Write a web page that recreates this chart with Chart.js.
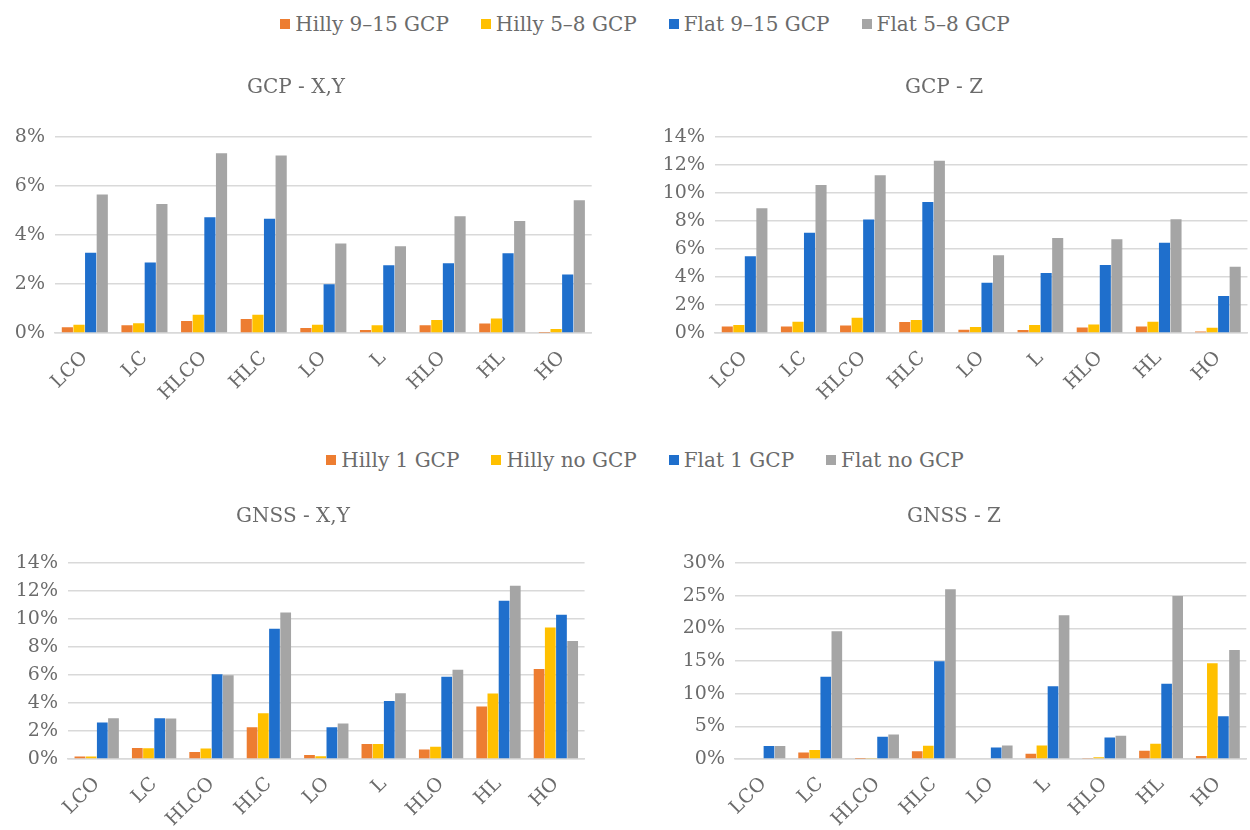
<!DOCTYPE html>
<html>
<head>
<meta charset="utf-8">
<script src="https://cdn.jsdelivr.net/npm/chart.js@4.4.1/dist/chart.umd.min.js"></script>
<style>
    body { margin: 0; background: #fff; width: 1250px; height: 830px; position: relative; overflow: hidden; font-family: "DejaVu Serif", serif; }
    .legend { position: absolute; left: 20px; width: 1250px; display: flex; justify-content: center; font-size: 20px; color: #6b6b6b; line-height: 28px; }
    .legend span.item { display: inline-flex; align-items: center; margin: 0 16px; white-space: nowrap; }
    .legend span.box { display: inline-block; width: 10px; height: 10px; margin-right: 5px; }
    .box-wrap { position: absolute; }
</style>
</head>
<body>
<div class="legend" id="legendTop" style="top: 10px;"></div>
<div class="legend" id="legendBottom" style="top: 446px;"></div>
<div class="box-wrap" style="left: 0px; top: 60px; width: 592px; height: 343px;"><canvas id="gcpXY"></canvas></div>
<div class="box-wrap" style="left: 640px; top: 60px; width: 608px; height: 343px;"><canvas id="gcpZ"></canvas></div>
<div class="box-wrap" style="left: 0px; top: 490px; width: 586px; height: 339px;"><canvas id="gnssXY"></canvas></div>
<div class="box-wrap" style="left: 660px; top: 490px; width: 588px; height: 339px;"><canvas id="gnssZ"></canvas></div>
<script>
let categories = ['LCO', 'LC', 'HLCO', 'HLC', 'LO', 'L', 'HLO', 'HL', 'HO'];
let colors = ['#ED7D31', '#FFC000', '#1F6FCC', '#A5A5A5'];

let gcpSeries = ['Hilly 9–15 GCP', 'Hilly 5–8 GCP', 'Flat 9–15 GCP', 'Flat 5–8 GCP'];
let gnssSeries = ['Hilly 1 GCP', 'Hilly no GCP', 'Flat 1 GCP', 'Flat no GCP'];

// GCP - X,Y (%)
let gcpXYHilly915 = [0.23, 0.32, 0.49, 0.57, 0.20, 0.12, 0.32, 0.39, 0.01];
let gcpXYHilly58 = [0.34, 0.40, 0.74, 0.74, 0.34, 0.32, 0.53, 0.59, 0.16];
let gcpXYFlat915 = [3.28, 2.88, 4.72, 4.66, 1.99, 2.77, 2.85, 3.26, 2.39];
let gcpXYFlat58 = [5.65, 5.27, 7.34, 7.24, 3.65, 3.54, 4.77, 4.57, 5.42];

// GCP - Z (%)
let gcpZHilly915 = [0.47, 0.47, 0.54, 0.78, 0.24, 0.21, 0.40, 0.47, 0.10];
let gcpZHilly58 = [0.57, 0.80, 1.09, 0.92, 0.43, 0.57, 0.61, 0.80, 0.38];
let gcpZFlat915 = [5.48, 7.16, 8.11, 9.36, 3.59, 4.28, 4.85, 6.45, 2.65];
let gcpZFlat58 = [8.91, 10.57, 11.26, 12.30, 5.56, 6.78, 6.69, 8.13, 4.73];

// GNSS - X,Y (%)
let gnssXYHilly1 = [0.17, 0.79, 0.50, 2.26, 0.29, 1.08, 0.67, 3.75, 6.43];
let gnssXYHillyNo = [0.17, 0.77, 0.75, 3.27, 0.19, 1.08, 0.87, 4.67, 9.39];
let gnssXYFlat1 = [2.60, 2.91, 6.06, 9.31, 2.26, 4.14, 5.87, 11.31, 10.30];
let gnssXYFlatNo = [2.91, 2.89, 5.99, 10.47, 2.53, 4.69, 6.38, 12.37, 8.42];

// GNSS - Z (%)
let gnssZHilly1 = [0.00, 1.01, 0.05, 1.17, 0.00, 0.81, 0.15, 1.27, 0.46];
let gnssZHillyNo = [0.00, 1.37, 0.15, 2.03, 0.00, 2.08, 0.25, 2.33, 14.64];
let gnssZFlat1 = [1.98, 12.60, 3.40, 14.95, 1.77, 11.15, 3.29, 11.50, 6.54];
let gnssZFlatNo = [1.98, 19.56, 3.75, 26.00, 2.08, 22.00, 3.55, 24.93, 16.67];

let textColor = '#6b6b6b';
let fontFamily = '"DejaVu Serif", serif';

let makeLegend = function (id, names) {
    let el = document.getElementById(id);
    names.forEach(function (name, i) {
        el.innerHTML += `<span class="item"><span class="box" style="background:${colors[i]}"></span>${name}</span>`;
    });
};

let barChartDraw = function (id, title, names, seriesList, max, step, yWidth, titleTop, titleBottom) {
    let ctx = document.getElementById(id).getContext('2d');
    new Chart(ctx, {
        type: 'bar',
        data: {
            labels: categories,
            datasets: seriesList.map(function (values, i) {
                return {
                    label: names[i],
                    data: values,
                    backgroundColor: colors[i],
                    barPercentage: 0.96,
                    categoryPercentage: 0.78
                };
            })
        },
        options: {
            responsive: true,
            maintainAspectRatio: false,
            animation: false,
            layout: { padding: 0 },
            plugins: {
                legend: { display: false },
                tooltip: { enabled: false },
                title: {
                    display: true,
                    text: title,
                    color: textColor,
                    font: { family: fontFamily, size: 20, weight: 'normal', lineHeight: 1.2 },
                    padding: { top: titleTop, bottom: titleBottom }
                }
            },
            scales: {
                x: {
                    grid: { display: false, drawTicks: false },
                    border: { color: '#D9D9D9', width: 1.5 },
                    ticks: {
                        color: textColor,
                        font: { family: fontFamily, size: 19 },
                        minRotation: 45,
                        maxRotation: 45,
                        padding: 14
                    },
                    afterFit: function (scale) { scale.height = 70; }
                },
                y: {
                    min: 0,
                    max: max,
                    grid: { color: '#D9D9D9', lineWidth: 1.5, drawTicks: false },
                    border: { display: false },
                    ticks: {
                        stepSize: step,
                        color: textColor,
                        font: { family: fontFamily, size: 19 },
                        padding: 10,
                        callback: function (v) { return v + '%'; }
                    },
                    afterFit: function (scale) { scale.width = yWidth; }
                }
            }
        }
    });
};

makeLegend('legendTop', gcpSeries);
makeLegend('legendBottom', gnssSeries);

barChartDraw('gcpXY', 'GCP - X,Y', gcpSeries, [gcpXYHilly915, gcpXYHilly58, gcpXYFlat915, gcpXYFlat58], 8, 2, 55, 16, 37);
barChartDraw('gcpZ', 'GCP - Z', gcpSeries, [gcpZHilly915, gcpZHilly58, gcpZFlat915, gcpZFlat58], 14, 2, 75, 16, 37);
barChartDraw('gnssXY', 'GNSS - X,Y', gnssSeries, [gnssXYHilly1, gnssXYHillyNo, gnssXYFlat1, gnssXYFlatNo], 14, 2, 68, 15, 34);
barChartDraw('gnssZ', 'GNSS - Z', gnssSeries, [gnssZHilly1, gnssZHillyNo, gnssZFlat1, gnssZFlatNo], 30, 5, 75, 15, 34);
</script>
</body>
</html>
